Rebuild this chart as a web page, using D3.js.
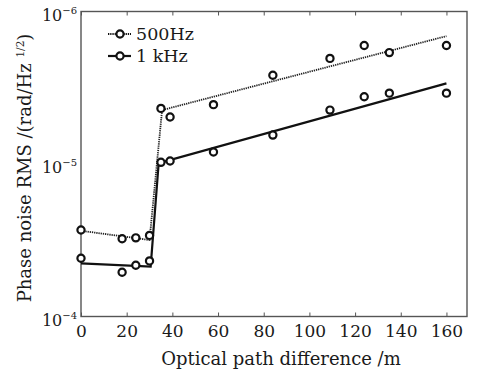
<!DOCTYPE html>
<html>
<head>
<meta charset="utf-8">
<script src="https://cdn.jsdelivr.net/npm/d3@7"></script>
<style>
  body { margin: 0; background: #fff; }
  text { font-family: "DejaVu Serif", serif; fill: #1a1a1a; }
</style>
</head>
<body>
<div class="chart"></div>
<script>
var svgWidth = 479;
var svgHeight = 369;

// Data
var distance = [0, 18, 24, 30, 35, 39, 58, 84, 109, 124, 135, 160];
var rms500 = [2.71e-5, 3.09e-5, 3.05e-5, 2.94e-5, 4.32e-6, 4.92e-6, 4.08e-6, 2.62e-6, 2.03e-6, 1.67e-6, 1.86e-6, 1.67e-6];
var rms1k = [4.15e-5, 5.13e-5, 4.61e-5, 4.32e-5, 9.75e-6, 9.55e-6, 8.34e-6, 6.46e-6, 4.43e-6, 3.62e-6, 3.43e-6, 3.43e-6];

// fitted lines
var fitX500 = [0, 30, 35.5, 160];
var fitY500 = [2.74e-5, 3.15e-5, 4.43e-6, 1.45e-6];
var fitX1k = [0, 30.5, 34, 160];
var fitY1k = [4.48e-5, 4.71e-5, 9.88e-6, 2.96e-6];

var xTicks = [0, 20, 40, 60, 80, 100, 120, 140, 160];
var yTicks = [1e-4, 1e-5, 1e-6];
var yTickExp = ["\u22124", "\u22125", "\u22126"];

var margin = { top: 11.5, right: 12, bottom: 52.5, left: 81 };
var width = svgWidth - margin.left - margin.right;
var height = svgHeight - margin.top - margin.bottom;

var svg = d3.select(".chart")
  .append("svg")
  .attr("width", svgWidth)
  .attr("height", svgHeight);

var chartGroup = svg.append("g")
  .attr("transform", `translate(${margin.left}, ${margin.top})`);

var x = d3.scaleLinear().domain([0, 169]).range([0, width]);
// axis printed with 10^-4 at the bottom and 10^-6 at the top
var y = d3.scaleLog().domain([1e-4, 1e-6]).range([height, 0]);

// frame
chartGroup.append("rect")
  .attr("width", width)
  .attr("height", height)
  .attr("fill", "none")
  .attr("stroke", "#555")
  .attr("stroke-width", 1.4);

// x ticks, inward on bottom and top
var bottomAxis = d3.axisBottom(x).tickValues(xTicks).tickSizeInner(-4).tickSizeOuter(0).tickPadding(8);
var xAxisG = chartGroup.append("g")
  .attr("transform", `translate(0, ${height})`)
  .call(bottomAxis);
xAxisG.select(".domain").remove();
xAxisG.selectAll("line").attr("stroke", "#555");
xAxisG.selectAll("text")
  .attr("font-family", "DejaVu Serif")
  .attr("font-size", 17)
  .attr("fill", "#1a1a1a");

var topAxis = d3.axisTop(x).tickValues(xTicks).tickSizeInner(-4).tickSizeOuter(0).tickFormat("");
var topG = chartGroup.append("g").call(topAxis);
topG.select(".domain").remove();
topG.selectAll("line").attr("stroke", "#555");

// y tick labels 10^n
var yLab = chartGroup.selectAll(".ylab")
  .data(yTicks)
  .enter()
  .append("text")
  .attr("class", "ylab")
  .attr("x", -4)
  .attr("y", d => y(d) + 9)
  .attr("text-anchor", "end")
  .attr("font-size", 16);
yLab.append("tspan").text("10");
yLab.append("tspan")
  .attr("dy", -7)
  .attr("font-size", 10)
  .text((d, i) => yTickExp[i]);

// lines
var line = d3.line().x(d => x(d[0])).y(d => y(d[1]));

chartGroup.append("path")
  .datum(fitX500.map((d, i) => [d, fitY500[i]]))
  .attr("d", line)
  .attr("fill", "none")
  .attr("stroke", "#222")
  .attr("stroke-width", 1.8)
  .attr("stroke-dasharray", "1.3,0.9");

chartGroup.append("path")
  .datum(fitX1k.map((d, i) => [d, fitY1k[i]]))
  .attr("d", line)
  .attr("fill", "none")
  .attr("stroke", "#111")
  .attr("stroke-width", 2.2);

// markers
function drawMarkers(vals) {
  chartGroup.append("g")
    .selectAll("circle")
    .data(distance.map((d, i) => [d, vals[i]]))
    .enter()
    .append("circle")
    .attr("cx", d => x(d[0]))
    .attr("cy", d => y(d[1]))
    .attr("r", 3.6)
    .attr("fill", "#fff")
    .attr("stroke", "#111")
    .attr("stroke-width", 2.2);
}
drawMarkers(rms500);
drawMarkers(rms1k);

// legend
var legend = [
  { label: "500Hz", dash: "1.3,0.9", w: 1.8, ly: 22.5 },
  { label: "1 kHz", dash: null, w: 2.2, ly: 44.5 }
];
var lg = chartGroup.selectAll(".legend")
  .data(legend)
  .enter()
  .append("g")
  .attr("transform", d => `translate(27, ${d.ly})`);
lg.append("line")
  .attr("x1", 0).attr("x2", 23)
  .attr("stroke", "#111")
  .attr("stroke-width", d => d.w)
  .attr("stroke-dasharray", d => d.dash);
lg.append("circle")
  .attr("cx", 12).attr("r", 3.6)
  .attr("fill", "#fff").attr("stroke", "#111").attr("stroke-width", 2.2);
lg.append("text")
  .attr("x", 28)
  .attr("y", 6)
  .attr("font-size", 17.5)
  .text(d => d.label);

// Create axes labels
var yTitle = svg.append("text")
  .attr("transform", `translate(31, ${margin.top + height / 2 + 4}) rotate(-90)`)
  .attr("text-anchor", "middle")
  .attr("font-size", 18);
yTitle.append("tspan").text("Phase noise RMS /(rad/Hz ");
yTitle.append("tspan").attr("font-size", 10.5).attr("dy", -7).text("1/2");
yTitle.append("tspan").attr("dy", 7).text(")");

svg.append("text")
  .attr("x", 281)
  .attr("y", 365)
  .attr("text-anchor", "middle")
  .attr("font-size", 18)
  .text("Optical path difference /m");
</script>
</body>
</html>
